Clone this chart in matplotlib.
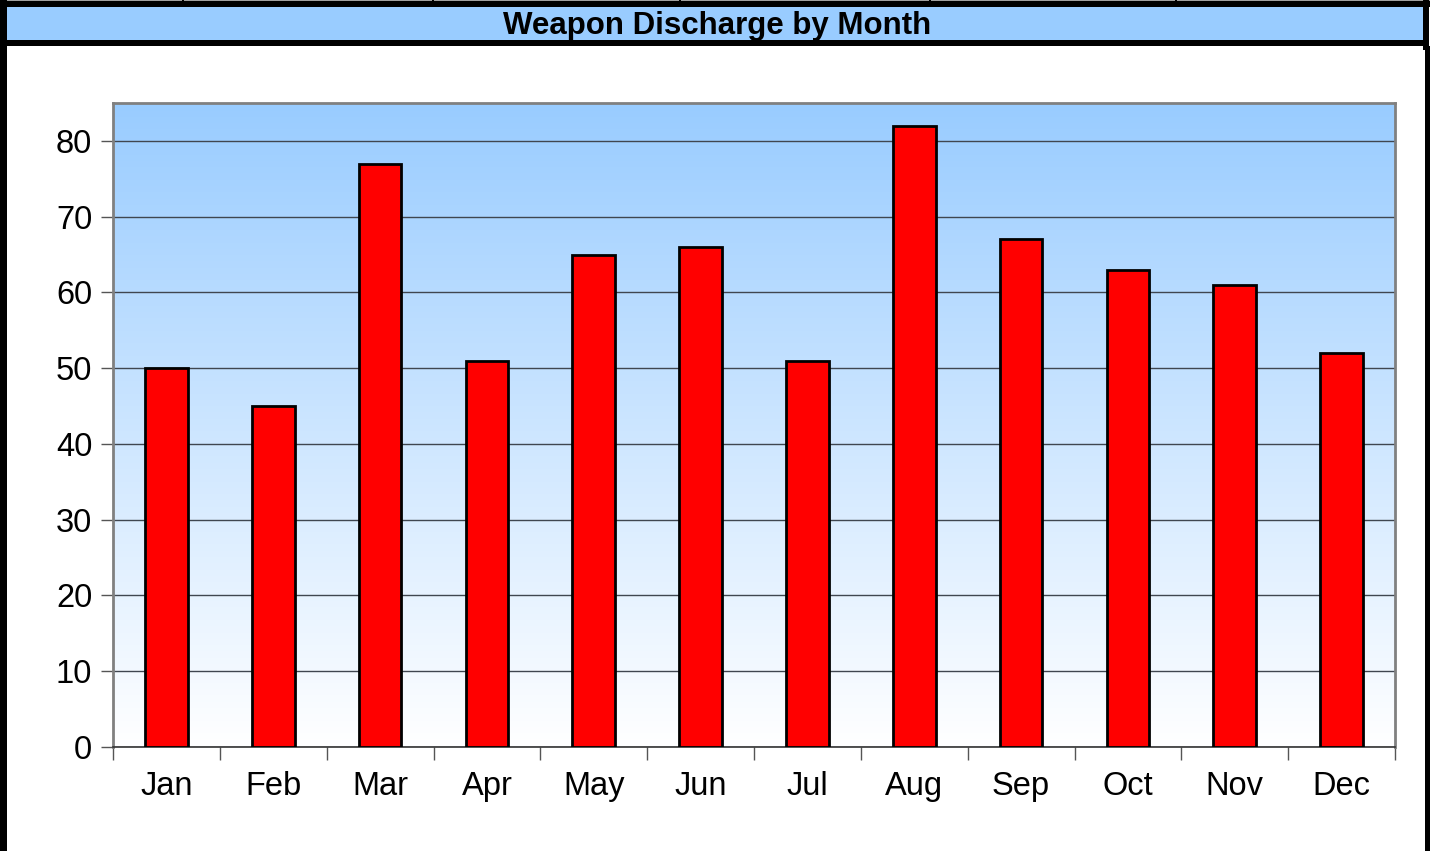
import numpy as np
import matplotlib
matplotlib.use("Agg")
import matplotlib.pyplot as plt
from matplotlib.patches import Rectangle
from matplotlib.colors import LinearSegmentedColormap

months = ["Jan", "Feb", "Mar", "Apr", "May", "Jun", "Jul", "Aug", "Sep", "Oct", "Nov", "Dec"]
discharges = [50, 45, 77, 51, 65, 66, 51, 82, 67, 63, 61, 52]
y_ticks = [0, 10, 20, 30, 40, 50, 60, 70, 80]
title = "Weapon Discharge by Month"

W, H = 1430, 851
plt.rcParams['font.family'] = ['Liberation Sans', 'DejaVu Sans']
fig = plt.figure(figsize=(W / 100, H / 100), dpi=100)

def px_rect(x0, y0, x1, y1, **kw):
    fig.patches.append(Rectangle((x0 / W, 1 - y1 / H), (x1 - x0) / W, (y1 - y0) / H,
                                 transform=fig.transFigure, figure=fig, **kw))

# frame pieces
px_rect(0, 0, W, 1.5, color="#a0a0a0", lw=0)
for tx in [183, 433, 680, 930, 1176]:
    px_rect(tx - 1, 0, tx + 1, 2, color="black", lw=0)
px_rect(0, 1.5, W, 7, color="black", lw=0)
px_rect(7, 7, 1423, 40, color="#99CCFF", lw=0)
px_rect(0, 40, 1429, 46, color="black", lw=0)
px_rect(0, 0, 7, H, color="black", lw=0)
px_rect(1423, 0, 1429, 50, color="black", lw=0)
px_rect(1425, 46, 1430, H, color="black", lw=0)
fig.text(717 / W, 1 - 26 / H, title, ha="center", va="center",
         fontsize=22.5, fontweight="bold", color="black")

ax = fig.add_axes([113 / W, 1 - 747 / H, (1395 - 113) / W, (747 - 103) / H])
x = np.arange(len(months))
ax.set_xlim(-0.5, len(months) - 0.5)
ax.set_ylim(0, 85)

cmap = LinearSegmentedColormap.from_list("bg", ["#FFFFFF", "#99CCFF"])
grad = np.linspace(0, 1, 256).reshape(-1, 1)
ax.imshow(grad, cmap=cmap, aspect="auto", origin="lower",
          extent=[-0.5, len(months) - 0.5, 0, 85], zorder=0)

ax.set_yticks(y_ticks)
ax.yaxis.grid(True, color="#3f4650", lw=1, zorder=1)
ax.set_axisbelow(True)
ax.bar(x, discharges, width=0.4, color="#FF0000", edgecolor="black", lw=2, zorder=3)

ax.set_xticks(x)
ax.set_xticklabels(months, fontsize=23.5)
ax.set_xticks(np.arange(-0.5, len(months), 1), minor=True)
ax.tick_params(axis="x", which="major", length=0, pad=17)
ax.tick_params(axis="x", which="minor", length=9, width=1, color="#555555", direction="out")
ax.tick_params(axis="y", labelsize=23.5, length=9, width=1, color="#555555", direction="out", pad=6)

for s in ["left", "right", "top"]:
    ax.spines[s].set_color("#808080")
    ax.spines[s].set_linewidth(2)
ax.spines["bottom"].set_color("#333333")
ax.spines["bottom"].set_linewidth(1.2)

fig.savefig("out.png", dpi=100, facecolor="white")
